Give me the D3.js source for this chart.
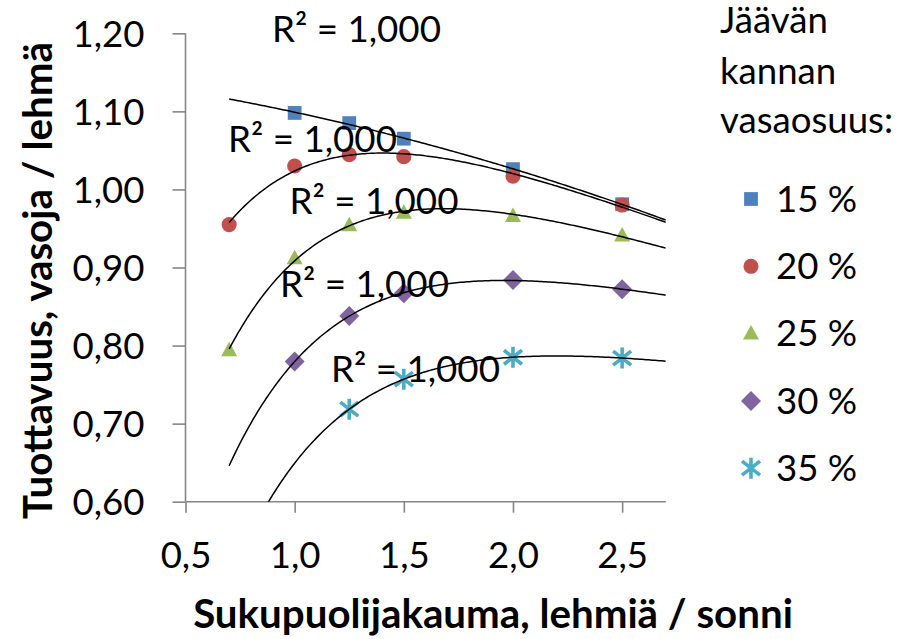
<!DOCTYPE html>
<html><head><meta charset="utf-8">
<script src="https://cdn.jsdelivr.net/npm/d3@7"></script>
<style>body{margin:0;background:#fff}text{font-family:Lato,"Open Sans",sans-serif;fill:#000}</style>
</head><body><svg id="c" width="920" height="639"></svg>
<script>
// ---- data ----
const xTickValues = [0.5, 1.0, 1.5, 2.0, 2.5];
const yTickValues = [0.6, 0.7, 0.8, 0.9, 1.0, 1.1, 1.2];
const seriesNames = ["15 %", "20 %", "25 %", "30 %", "35 %"];
const x15 = [1.0, 1.25, 1.5, 2.0, 2.5];
const y15 = [1.098, 1.085, 1.065, 1.026, 0.981];
const x20 = [0.7, 1.0, 1.25, 1.5, 2.0, 2.5];
const y20 = [0.955, 1.030, 1.0445, 1.042, 1.017, 0.980];
const x25 = [0.7, 1.0, 1.25, 1.5, 2.0, 2.5];
const y25 = [0.794, 0.912, 0.954, 0.970, 0.966, 0.941];
const x30 = [1.0, 1.25, 1.5, 2.0, 2.5];
const y30 = [0.7795, 0.838, 0.867, 0.884, 0.872];
const x35 = [1.25, 1.5, 2.0, 2.5];
const y35 = [0.7185, 0.757, 0.785, 0.784];
const trendModel = ["poly2", "exp", "exp", "exp", "exp"];
const trendRange = [0.7, 2.7];
const r2Labels = ["R² = 1,000", "R² = 1,000", "R² = 1,000", "R² = 1,000", "R² = 1,000"];
const legendTitle = ["Jäävän", "kannan", "vasaosuus:"];
const xTitle = "Sukupuolijakauma, lehmiä / sonni";
const yTitle = "Tuottavuus, vasoja / lehmä";

// ---- style / layout ----
const colors = ["#4F81BD", "#C0504D", "#9BBB59", "#8064A2", "#4BACC6"];
const shapes = ["square", "circle", "triangle", "diamond", "star"];
const r2Pos = [[272, 41.5], [228, 151.5], [289.5, 214], [280, 296.5], [331, 381.5]];
const X0 = 185.5, X1 = 665.8, Y0 = 501.7, Y1 = 33.3;

const svg = d3.select("#c");
const xs = d3.scaleLinear().domain([0.5, 2.7]).range([X0, X1]);
const ys = d3.scaleLinear().domain([0.6, 1.2]).range([Y0, Y1]);
const fmt = (d, p) => d.toFixed(p).replace(".", ",");

function fitText(sel, target) {
  const w = sel.node().getComputedTextLength();
  const fs = parseFloat(sel.attr("font-size"));
  sel.attr("font-size", fs * target / w);
}

const probe = svg.append("text").attr("font-size", 100).text("1,20");
const baseFS = 100 * 72 / probe.node().getComputedTextLength();
probe.remove();

// axes
const yAxis = svg.append("g").attr("transform", `translate(${X0},0)`)
  .call(d3.axisLeft(ys).tickValues(yTickValues).tickSize(13).tickPadding(28).tickFormat(d => fmt(d, 2)));
const xAxis = svg.append("g").attr("transform", `translate(0,${Y0})`)
  .call(d3.axisBottom(xs).tickValues(xTickValues).tickSize(11).tickPadding(0).tickFormat(d => fmt(d, 1)));
[yAxis, xAxis].forEach(a => {
  a.select(".domain").attr("stroke", "#868686").attr("stroke-width", 1.6);
  a.selectAll(".tick line").attr("stroke", "#868686").attr("stroke-width", 1.6);
  a.selectAll("text").attr("font-size", baseFS).attr("font-family", "Lato").attr("fill", "#000");
});
yAxis.selectAll(".domain").attr("d", `M0,${Y1}V${Y0}`);
xAxis.selectAll(".domain").attr("d", `M${X0},0H${X1}`);
yAxis.selectAll(".tick text").attr("x", -41).attr("dy", "0.36em");
xAxis.selectAll(".tick text").attr("y", 66).attr("dy", 0);

// markers
function markerPath(shape) {
  if (shape === "square") return d3.symbol(d3.symbolSquare, 190)();
  if (shape === "circle") return d3.symbol(d3.symbolCircle, 180)();
  if (shape === "triangle") return "M0,-8.5L8,6L-8,6Z";
  if (shape === "diamond") return "M0,-10L10,0L0,10L-10,0Z";
  return "M0,-10.5V10.5M-9,-7L9,7M-9,7L9,-7";
}
function drawMarker(g, shape, color) {
  const p = g.append("path").attr("d", markerPath(shape));
  if (shape === "star") p.attr("fill", "none").attr("stroke", color).attr("stroke-width", 3.6);
  else p.attr("fill", color);
}

const seriesX = [x15, x20, x25, x30, x35];
const seriesY = [y15, y20, y25, y30, y35];

const plot = svg.append("g");
seriesX.forEach((xsArr, i) => {
  xsArr.forEach((xv, j) => {
    const g = plot.append("g").attr("transform", `translate(${xs(xv)},${ys(seriesY[i][j])})`);
    drawMarker(g, shapes[i], colors[i]);
  });
});

// least squares trendline with linear basis functions
function bases(model) {
  if (model === "poly2") return [x => 1, x => x - 1.5, x => (x - 1.5) * (x - 1.5)];
  return [x => 1, x => x - 1.5, x => -Math.exp(-2 * x)];
}
function lsfit(xa, ya, model) {
  const B = bases(model), n = B.length;
  const A = d3.range(n).map(() => new Array(n + 1).fill(0));
  xa.forEach((xv, k) => {
    for (let i = 0; i < n; i++) {
      for (let j = 0; j < n; j++) A[i][j] += B[i](xv) * B[j](xv);
      A[i][n] += ya[k] * B[i](xv);
    }
  });
  for (let i = 0; i < n; i++) {
    let m = i;
    for (let r = i + 1; r < n; r++) if (Math.abs(A[r][i]) > Math.abs(A[m][i])) m = r;
    [A[i], A[m]] = [A[m], A[i]];
    for (let r = 0; r < n; r++) if (r !== i) {
      const f = A[r][i] / A[i][i];
      for (let c = i; c <= n; c++) A[r][c] -= f * A[i][c];
    }
  }
  const coef = A.map((row, i) => row[n] / row[i]);
  return xv => coef.reduce((s, a, i) => s + a * B[i](xv), 0);
}

svg.append("defs").append("clipPath").attr("id", "clip")
  .append("rect").attr("x", X0).attr("y", Y1).attr("width", X1 - X0).attr("height", Y0 - Y1);
const lines = svg.append("g").attr("clip-path", "url(#clip)");
seriesX.forEach((xsArr, i) => {
  const f = lsfit(xsArr, seriesY[i], trendModel[i]);
  const pts = d3.range(0, 201).map(k => trendRange[0] + (trendRange[1] - trendRange[0]) * k / 200);
  lines.append("path")
    .attr("d", d3.line().x(d => xs(d)).y(d => ys(f(d)))(pts))
    .attr("fill", "none").attr("stroke", "#000").attr("stroke-width", 1.5);
});

// R² labels
r2Labels.forEach((t, i) => {
  const s = svg.append("text").attr("x", r2Pos[i][0]).attr("y", r2Pos[i][1]).attr("font-size", baseFS).text(t);
  fitText(s, 169);
});

// axis titles
const xt = svg.append("text").attr("x", 493).attr("y", 628).attr("text-anchor", "middle")
  .attr("font-weight", "bold").attr("font-size", 34).text(xTitle);
fitText(xt, 600);
const yt = svg.append("text").attr("transform", "translate(52,280.5) rotate(-90)").attr("text-anchor", "middle")
  .attr("font-weight", "bold").attr("font-size", 34).text(yTitle);
fitText(yt, 477);

// legend
const ltBase = [32.5, 83.5, 133.3];
legendTitle.forEach((t, i) => {
  svg.append("text").attr("x", 720).attr("y", ltBase[i]).attr("font-size", baseFS).text(t);
});
seriesNames.forEach((n, i) => {
  const cy = 199 + i * 67.3;
  const g = svg.append("g").attr("transform", `translate(751,${cy})`);
  drawMarker(g, shapes[i], colors[i]);
  svg.append("text").attr("x", 776).attr("y", cy + 12.7).attr("font-size", baseFS).text(n);
});
</script></body></html>
